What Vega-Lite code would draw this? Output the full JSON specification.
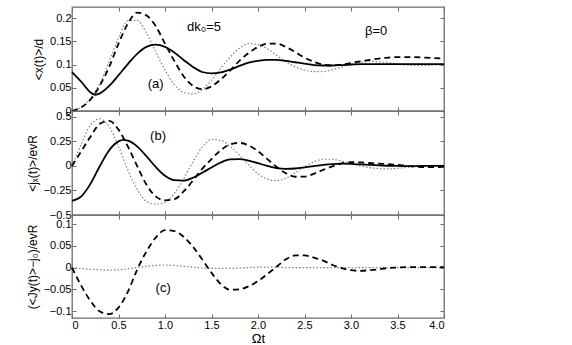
{
  "$schema": "https://vega.github.io/schema/vega-lite/v6.json",
  "padding": {"left": 25, "top": 5, "right": 5, "bottom": 3},
  "spacing": 0,
  "bounds": "flush",
  "config": {
    "font": "Liberation Sans",
    "view": {"stroke": "#6e6e6e", "strokeWidth": 1.3},
    "axis": {"domain": false, "grid": false, "tickColor": "#6e6e6e", "tickSize": -4, "tickWidth": 1, "labelFontSize": 11, "labelColor": "#000", "titleFontSize": 12, "titleFontWeight": "normal", "titleColor": "#000", "labelPadding": 5, "titlePadding": 4, "minExtent": 0}
  },
  "datasets": {
    "a": [
      {"x":0,"y":0.084,"s":"solid"},{"x":0.1,"y":0.063,"s":"solid"},{"x":0.2,"y":0.040,"s":"solid"},{"x":0.25,"y":0.035,"s":"solid"},{"x":0.3,"y":0.038,"s":"solid"},{"x":0.4,"y":0.054,"s":"solid"},{"x":0.5,"y":0.077,"s":"solid"},{"x":0.6,"y":0.101,"s":"solid"},{"x":0.7,"y":0.123,"s":"solid"},{"x":0.8,"y":0.138,"s":"solid"},{"x":0.9,"y":0.143,"s":"solid"},{"x":1.0,"y":0.138,"s":"solid"},{"x":1.1,"y":0.126,"s":"solid"},{"x":1.2,"y":0.110,"s":"solid"},{"x":1.3,"y":0.095,"s":"solid"},{"x":1.4,"y":0.084,"s":"solid"},{"x":1.5,"y":0.081,"s":"solid"},{"x":1.6,"y":0.083,"s":"solid"},{"x":1.7,"y":0.089,"s":"solid"},{"x":1.8,"y":0.097,"s":"solid"},{"x":1.9,"y":0.104,"s":"solid"},{"x":2.0,"y":0.108,"s":"solid"},{"x":2.1,"y":0.110,"s":"solid"},{"x":2.2,"y":0.110,"s":"solid"},{"x":2.3,"y":0.108,"s":"solid"},{"x":2.4,"y":0.105,"s":"solid"},{"x":2.5,"y":0.102,"s":"solid"},{"x":2.6,"y":0.099,"s":"solid"},{"x":2.7,"y":0.098,"s":"solid"},{"x":2.8,"y":0.098,"s":"solid"},{"x":2.9,"y":0.099,"s":"solid"},{"x":3.0,"y":0.100,"s":"solid"},{"x":3.1,"y":0.101,"s":"solid"},{"x":3.2,"y":0.101,"s":"solid"},{"x":3.3,"y":0.101,"s":"solid"},{"x":3.4,"y":0.101,"s":"solid"},{"x":3.5,"y":0.101,"s":"solid"},{"x":3.6,"y":0.101,"s":"solid"},{"x":3.7,"y":0.101,"s":"solid"},{"x":3.8,"y":0.101,"s":"solid"},{"x":3.9,"y":0.101,"s":"solid"},{"x":4.0,"y":0.101,"s":"solid"},
      {"x":0,"y":0,"s":"dashed"},{"x":0.1,"y":0.008,"s":"dashed"},{"x":0.2,"y":0.025,"s":"dashed"},{"x":0.3,"y":0.055,"s":"dashed"},{"x":0.4,"y":0.095,"s":"dashed"},{"x":0.5,"y":0.145,"s":"dashed"},{"x":0.6,"y":0.188,"s":"dashed"},{"x":0.7,"y":0.212,"s":"dashed"},{"x":0.8,"y":0.206,"s":"dashed"},{"x":0.9,"y":0.183,"s":"dashed"},{"x":1.0,"y":0.145,"s":"dashed"},{"x":1.1,"y":0.108,"s":"dashed"},{"x":1.2,"y":0.075,"s":"dashed"},{"x":1.3,"y":0.054,"s":"dashed"},{"x":1.4,"y":0.047,"s":"dashed"},{"x":1.5,"y":0.053,"s":"dashed"},{"x":1.6,"y":0.068,"s":"dashed"},{"x":1.7,"y":0.087,"s":"dashed"},{"x":1.8,"y":0.108,"s":"dashed"},{"x":1.9,"y":0.125,"s":"dashed"},{"x":2.0,"y":0.138,"s":"dashed"},{"x":2.1,"y":0.145,"s":"dashed"},{"x":2.2,"y":0.145,"s":"dashed"},{"x":2.3,"y":0.138,"s":"dashed"},{"x":2.4,"y":0.127,"s":"dashed"},{"x":2.5,"y":0.115,"s":"dashed"},{"x":2.6,"y":0.106,"s":"dashed"},{"x":2.7,"y":0.100,"s":"dashed"},{"x":2.8,"y":0.098,"s":"dashed"},{"x":2.9,"y":0.100,"s":"dashed"},{"x":3.0,"y":0.103,"s":"dashed"},{"x":3.1,"y":0.107,"s":"dashed"},{"x":3.2,"y":0.110,"s":"dashed"},{"x":3.3,"y":0.113,"s":"dashed"},{"x":3.4,"y":0.115,"s":"dashed"},{"x":3.5,"y":0.116,"s":"dashed"},{"x":3.6,"y":0.116,"s":"dashed"},{"x":3.7,"y":0.116,"s":"dashed"},{"x":3.8,"y":0.115,"s":"dashed"},{"x":3.9,"y":0.114,"s":"dashed"},{"x":4.0,"y":0.113,"s":"dashed"},
      {"x":0,"y":0,"s":"dotted"},{"x":0.1,"y":0.008,"s":"dotted"},{"x":0.2,"y":0.027,"s":"dotted"},{"x":0.3,"y":0.060,"s":"dotted"},{"x":0.4,"y":0.107,"s":"dotted"},{"x":0.5,"y":0.158,"s":"dotted"},{"x":0.6,"y":0.194,"s":"dotted"},{"x":0.7,"y":0.195,"s":"dotted"},{"x":0.8,"y":0.168,"s":"dotted"},{"x":0.9,"y":0.128,"s":"dotted"},{"x":1.0,"y":0.088,"s":"dotted"},{"x":1.1,"y":0.057,"s":"dotted"},{"x":1.2,"y":0.040,"s":"dotted"},{"x":1.3,"y":0.037,"s":"dotted"},{"x":1.4,"y":0.046,"s":"dotted"},{"x":1.5,"y":0.066,"s":"dotted"},{"x":1.6,"y":0.092,"s":"dotted"},{"x":1.7,"y":0.116,"s":"dotted"},{"x":1.8,"y":0.135,"s":"dotted"},{"x":1.9,"y":0.145,"s":"dotted"},{"x":2.0,"y":0.143,"s":"dotted"},{"x":2.1,"y":0.134,"s":"dotted"},{"x":2.2,"y":0.120,"s":"dotted"},{"x":2.3,"y":0.106,"s":"dotted"},{"x":2.4,"y":0.095,"s":"dotted"},{"x":2.5,"y":0.088,"s":"dotted"},{"x":2.6,"y":0.085,"s":"dotted"},{"x":2.7,"y":0.085,"s":"dotted"},{"x":2.8,"y":0.089,"s":"dotted"},{"x":2.9,"y":0.095,"s":"dotted"},{"x":3.0,"y":0.101,"s":"dotted"},{"x":3.1,"y":0.105,"s":"dotted"},{"x":3.2,"y":0.107,"s":"dotted"},{"x":3.3,"y":0.106,"s":"dotted"},{"x":3.4,"y":0.104,"s":"dotted"},{"x":3.5,"y":0.101,"s":"dotted"},{"x":3.6,"y":0.099,"s":"dotted"},{"x":3.7,"y":0.098,"s":"dotted"},{"x":3.8,"y":0.098,"s":"dotted"},{"x":3.9,"y":0.099,"s":"dotted"},{"x":4.0,"y":0.100,"s":"dotted"}
    ],
    "b": [
      {"x":0,"y":-0.355,"s":"solid"},{"x":0.1,"y":-0.31,"s":"solid"},{"x":0.2,"y":-0.18,"s":"solid"},{"x":0.3,"y":0.0,"s":"solid"},{"x":0.4,"y":0.16,"s":"solid"},{"x":0.5,"y":0.25,"s":"solid"},{"x":0.55,"y":0.266,"s":"solid"},{"x":0.6,"y":0.258,"s":"solid"},{"x":0.7,"y":0.20,"s":"solid"},{"x":0.8,"y":0.10,"s":"solid"},{"x":0.9,"y":-0.01,"s":"solid"},{"x":1.0,"y":-0.10,"s":"solid"},{"x":1.1,"y":-0.145,"s":"solid"},{"x":1.2,"y":-0.15,"s":"solid"},{"x":1.3,"y":-0.12,"s":"solid"},{"x":1.4,"y":-0.07,"s":"solid"},{"x":1.5,"y":-0.015,"s":"solid"},{"x":1.6,"y":0.035,"s":"solid"},{"x":1.7,"y":0.066,"s":"solid"},{"x":1.8,"y":0.07,"s":"solid"},{"x":1.9,"y":0.055,"s":"solid"},{"x":2.0,"y":0.028,"s":"solid"},{"x":2.1,"y":0.0,"s":"solid"},{"x":2.2,"y":-0.022,"s":"solid"},{"x":2.3,"y":-0.03,"s":"solid"},{"x":2.4,"y":-0.026,"s":"solid"},{"x":2.5,"y":-0.015,"s":"solid"},{"x":2.6,"y":-0.002,"s":"solid"},{"x":2.7,"y":0.01,"s":"solid"},{"x":2.8,"y":0.019,"s":"solid"},{"x":2.9,"y":0.023,"s":"solid"},{"x":3.0,"y":0.021,"s":"solid"},{"x":3.1,"y":0.016,"s":"solid"},{"x":3.2,"y":0.01,"s":"solid"},{"x":3.3,"y":0.005,"s":"solid"},{"x":3.4,"y":0.002,"s":"solid"},{"x":3.5,"y":0.0,"s":"solid"},{"x":3.6,"y":-0.001,"s":"solid"},{"x":3.7,"y":-0.001,"s":"solid"},{"x":3.8,"y":0,"s":"solid"},{"x":3.9,"y":0,"s":"solid"},{"x":4.0,"y":0,"s":"solid"},
      {"x":0,"y":0,"s":"dashed"},{"x":0.1,"y":0.15,"s":"dashed"},{"x":0.2,"y":0.30,"s":"dashed"},{"x":0.3,"y":0.43,"s":"dashed"},{"x":0.4,"y":0.46,"s":"dashed"},{"x":0.5,"y":0.37,"s":"dashed"},{"x":0.6,"y":0.20,"s":"dashed"},{"x":0.7,"y":0.0,"s":"dashed"},{"x":0.8,"y":-0.19,"s":"dashed"},{"x":0.9,"y":-0.31,"s":"dashed"},{"x":1.0,"y":-0.35,"s":"dashed"},{"x":1.1,"y":-0.34,"s":"dashed"},{"x":1.2,"y":-0.26,"s":"dashed"},{"x":1.3,"y":-0.15,"s":"dashed"},{"x":1.4,"y":-0.03,"s":"dashed"},{"x":1.5,"y":0.07,"s":"dashed"},{"x":1.6,"y":0.16,"s":"dashed"},{"x":1.7,"y":0.22,"s":"dashed"},{"x":1.8,"y":0.235,"s":"dashed"},{"x":1.9,"y":0.21,"s":"dashed"},{"x":2.0,"y":0.15,"s":"dashed"},{"x":2.1,"y":0.07,"s":"dashed"},{"x":2.2,"y":-0.01,"s":"dashed"},{"x":2.3,"y":-0.075,"s":"dashed"},{"x":2.4,"y":-0.11,"s":"dashed"},{"x":2.5,"y":-0.108,"s":"dashed"},{"x":2.6,"y":-0.08,"s":"dashed"},{"x":2.7,"y":-0.04,"s":"dashed"},{"x":2.8,"y":-0.005,"s":"dashed"},{"x":2.9,"y":0.025,"s":"dashed"},{"x":3.0,"y":0.038,"s":"dashed"},{"x":3.1,"y":0.036,"s":"dashed"},{"x":3.2,"y":0.03,"s":"dashed"},{"x":3.3,"y":0.024,"s":"dashed"},{"x":3.4,"y":0.018,"s":"dashed"},{"x":3.5,"y":0.01,"s":"dashed"},{"x":3.6,"y":0.0,"s":"dashed"},{"x":3.7,"y":-0.009,"s":"dashed"},{"x":3.8,"y":-0.013,"s":"dashed"},{"x":3.9,"y":-0.012,"s":"dashed"},{"x":4.0,"y":-0.009,"s":"dashed"},
      {"x":0,"y":0,"s":"dotted"},{"x":0.1,"y":0.22,"s":"dotted"},{"x":0.2,"y":0.42,"s":"dotted"},{"x":0.3,"y":0.48,"s":"dotted"},{"x":0.4,"y":0.40,"s":"dotted"},{"x":0.5,"y":0.20,"s":"dotted"},{"x":0.6,"y":-0.04,"s":"dotted"},{"x":0.7,"y":-0.24,"s":"dotted"},{"x":0.8,"y":-0.36,"s":"dotted"},{"x":0.9,"y":-0.39,"s":"dotted"},{"x":1.0,"y":-0.37,"s":"dotted"},{"x":1.1,"y":-0.28,"s":"dotted"},{"x":1.2,"y":-0.13,"s":"dotted"},{"x":1.3,"y":0.04,"s":"dotted"},{"x":1.4,"y":0.19,"s":"dotted"},{"x":1.5,"y":0.27,"s":"dotted"},{"x":1.6,"y":0.26,"s":"dotted"},{"x":1.7,"y":0.20,"s":"dotted"},{"x":1.8,"y":0.11,"s":"dotted"},{"x":1.9,"y":0.01,"s":"dotted"},{"x":2.0,"y":-0.08,"s":"dotted"},{"x":2.1,"y":-0.135,"s":"dotted"},{"x":2.2,"y":-0.15,"s":"dotted"},{"x":2.3,"y":-0.125,"s":"dotted"},{"x":2.4,"y":-0.07,"s":"dotted"},{"x":2.5,"y":-0.01,"s":"dotted"},{"x":2.6,"y":0.04,"s":"dotted"},{"x":2.7,"y":0.068,"s":"dotted"},{"x":2.8,"y":0.068,"s":"dotted"},{"x":2.9,"y":0.05,"s":"dotted"},{"x":3.0,"y":0.025,"s":"dotted"},{"x":3.1,"y":0.0,"s":"dotted"},{"x":3.2,"y":-0.017,"s":"dotted"},{"x":3.3,"y":-0.027,"s":"dotted"},{"x":3.4,"y":-0.03,"s":"dotted"},{"x":3.5,"y":-0.025,"s":"dotted"},{"x":3.6,"y":-0.015,"s":"dotted"},{"x":3.7,"y":-0.005,"s":"dotted"},{"x":3.8,"y":0.002,"s":"dotted"},{"x":3.9,"y":0.005,"s":"dotted"},{"x":4.0,"y":0.005,"s":"dotted"}
    ],
    "c": [
      {"x":0,"y":0,"s":"dashed"},{"x":0.1,"y":-0.042,"s":"dashed"},{"x":0.2,"y":-0.077,"s":"dashed"},{"x":0.3,"y":-0.101,"s":"dashed"},{"x":0.4,"y":-0.107,"s":"dashed"},{"x":0.5,"y":-0.092,"s":"dashed"},{"x":0.6,"y":-0.056,"s":"dashed"},{"x":0.7,"y":-0.005,"s":"dashed"},{"x":0.8,"y":0.037,"s":"dashed"},{"x":0.9,"y":0.069,"s":"dashed"},{"x":1.0,"y":0.086,"s":"dashed"},{"x":1.1,"y":0.084,"s":"dashed"},{"x":1.2,"y":0.071,"s":"dashed"},{"x":1.3,"y":0.048,"s":"dashed"},{"x":1.4,"y":0.019,"s":"dashed"},{"x":1.5,"y":-0.012,"s":"dashed"},{"x":1.6,"y":-0.038,"s":"dashed"},{"x":1.7,"y":-0.051,"s":"dashed"},{"x":1.8,"y":-0.050,"s":"dashed"},{"x":1.9,"y":-0.043,"s":"dashed"},{"x":2.0,"y":-0.031,"s":"dashed"},{"x":2.1,"y":-0.015,"s":"dashed"},{"x":2.2,"y":0.002,"s":"dashed"},{"x":2.3,"y":0.019,"s":"dashed"},{"x":2.4,"y":0.028,"s":"dashed"},{"x":2.5,"y":0.028,"s":"dashed"},{"x":2.6,"y":0.023,"s":"dashed"},{"x":2.7,"y":0.016,"s":"dashed"},{"x":2.8,"y":0.006,"s":"dashed"},{"x":2.9,"y":-0.001,"s":"dashed"},{"x":3.0,"y":-0.006,"s":"dashed"},{"x":3.1,"y":-0.0076,"s":"dashed"},{"x":3.2,"y":-0.006,"s":"dashed"},{"x":3.3,"y":-0.004,"s":"dashed"},{"x":3.4,"y":-0.001,"s":"dashed"},{"x":3.5,"y":0,"s":"dashed"},{"x":3.6,"y":0.001,"s":"dashed"},{"x":3.7,"y":0.001,"s":"dashed"},{"x":3.8,"y":0.001,"s":"dashed"},{"x":3.9,"y":0.001,"s":"dashed"},{"x":4.0,"y":0.001,"s":"dashed"},
      {"x":0,"y":0,"s":"dotted"},{"x":0.1,"y":-0.002,"s":"dotted"},{"x":0.2,"y":-0.004,"s":"dotted"},{"x":0.3,"y":-0.005,"s":"dotted"},{"x":0.4,"y":-0.006,"s":"dotted"},{"x":0.5,"y":-0.005,"s":"dotted"},{"x":0.6,"y":-0.003,"s":"dotted"},{"x":0.7,"y":0,"s":"dotted"},{"x":0.8,"y":0.003,"s":"dotted"},{"x":0.9,"y":0.005,"s":"dotted"},{"x":1.0,"y":0.006,"s":"dotted"},{"x":1.1,"y":0.005,"s":"dotted"},{"x":1.2,"y":0.003,"s":"dotted"},{"x":1.3,"y":0.001,"s":"dotted"},{"x":1.4,"y":-0.001,"s":"dotted"},{"x":1.5,"y":-0.002,"s":"dotted"},{"x":1.6,"y":-0.002,"s":"dotted"},{"x":1.7,"y":-0.002,"s":"dotted"},{"x":1.8,"y":-0.001,"s":"dotted"},{"x":1.9,"y":0,"s":"dotted"},{"x":2.0,"y":0.001,"s":"dotted"},{"x":2.1,"y":0.001,"s":"dotted"},{"x":2.2,"y":0.001,"s":"dotted"},{"x":2.3,"y":0,"s":"dotted"},{"x":2.6,"y":0,"s":"dotted"},{"x":3.0,"y":0,"s":"dotted"},{"x":3.5,"y":0,"s":"dotted"},{"x":4.0,"y":0,"s":"dotted"}
    ]
  },
  "vconcat": [
    {
      "width": 372, "height": 104,
      "layer": [
        {"data": {"name": "a"}, "transform": [{"filter": "datum.s == 'dotted'"}],
         "mark": {"type": "line", "color": "#808080", "strokeWidth": 1.2, "strokeDash": [1.5, 2], "interpolate": "monotone"},
         "encoding": {
           "x": {"field": "x", "type": "quantitative", "scale": {"domain": [0, 4], "nice": false}, "axis": {"orient": "bottom", "values": [0,0.5,1,1.5,2,2.5,3,3.5,4], "labels": false, "title": null}},
           "y": {"field": "y", "type": "quantitative", "scale": {"domain": [0, 0.224], "nice": false, "zero": false}, "axis": {"orient": "left", "values": [0,0.05,0.1,0.15,0.2], "labelExpr": "datum.value == 0 ? '0' : format(datum.value, '.2~f')", "title": "<x(t)>/d"}}
         }},
        {"data": {"name": "a"}, "transform": [{"filter": "datum.s == 'dashed'"}],
         "mark": {"type": "line", "color": "#000", "strokeWidth": 1.8, "strokeDash": [6, 4], "interpolate": "monotone"},
         "encoding": {
           "x": {"field": "x", "type": "quantitative", "axis": {"orient": "top", "values": [0,0.5,1,1.5,2,2.5,3,3.5,4], "labels": false, "title": null}},
           "y": {"field": "y", "type": "quantitative", "axis": {"orient": "right", "values": [0,0.05,0.1,0.15,0.2], "labels": false, "title": null}}
         }},
        {"data": {"name": "a"}, "transform": [{"filter": "datum.s == 'solid'"}],
         "mark": {"type": "line", "color": "#000", "strokeWidth": 1.8, "interpolate": "monotone"},
         "encoding": {
           "x": {"field": "x", "type": "quantitative", "axis": null},
           "y": {"field": "y", "type": "quantitative", "axis": null}
         }},
        {"data": {"values": [{"x": 1.42, "y": 0.181, "t": "dk₀=5"}, {"x": 3.27, "y": 0.172, "t": "β=0"}, {"x": 0.9, "y": 0.058, "t": "(a)"}]},
         "mark": {"type": "text", "fontSize": 13, "align": "center", "baseline": "middle", "color": "#000"},
         "encoding": {
           "x": {"field": "x", "type": "quantitative", "axis": null},
           "y": {"field": "y", "type": "quantitative", "axis": null},
           "text": {"field": "t"}
         }}
      ],
      "resolve": {"axis": {"x": "independent", "y": "independent"}}
    },
    {
      "width": 372, "height": 104,
      "layer": [
        {"data": {"name": "b"}, "transform": [{"filter": "datum.s == 'dotted'"}],
         "mark": {"type": "line", "color": "#808080", "strokeWidth": 1.2, "strokeDash": [1.5, 2], "interpolate": "monotone"},
         "encoding": {
           "x": {"field": "x", "type": "quantitative", "scale": {"domain": [0, 4], "nice": false}, "axis": {"orient": "bottom", "values": [0,0.5,1,1.5,2,2.5,3,3.5,4], "labels": false, "title": null}},
           "y": {"field": "y", "type": "quantitative", "scale": {"domain": [-0.5, 0.56], "nice": false, "zero": false}, "axis": {"orient": "left", "values": [-0.5,-0.25,0,0.25,0.5], "labelExpr": "datum.value == 0 ? '0' : format(datum.value, '.2~f')", "title": "<jₓ(t)>/evR"}}
         }},
        {"data": {"name": "b"}, "transform": [{"filter": "datum.s == 'dashed'"}],
         "mark": {"type": "line", "color": "#000", "strokeWidth": 1.8, "strokeDash": [6, 4], "interpolate": "monotone"},
         "encoding": {
           "x": {"field": "x", "type": "quantitative", "axis": {"orient": "top", "values": [0,0.5,1,1.5,2,2.5,3,3.5,4], "labels": false, "title": null}},
           "y": {"field": "y", "type": "quantitative", "axis": {"orient": "right", "values": [-0.5,-0.25,0,0.25,0.5], "labels": false, "title": null}}
         }},
        {"data": {"name": "b"}, "transform": [{"filter": "datum.s == 'solid'"}],
         "mark": {"type": "line", "color": "#000", "strokeWidth": 1.8, "interpolate": "monotone"},
         "encoding": {
           "x": {"field": "x", "type": "quantitative", "axis": null},
           "y": {"field": "y", "type": "quantitative", "axis": null}
         }},
        {"data": {"values": [{"x": 0.925, "y": 0.306, "t": "(b)"}]},
         "mark": {"type": "text", "fontSize": 13, "align": "center", "baseline": "middle", "color": "#000"},
         "encoding": {
           "x": {"field": "x", "type": "quantitative", "axis": null},
           "y": {"field": "y", "type": "quantitative", "axis": null},
           "text": {"field": "t"}
         }}
      ],
      "resolve": {"axis": {"x": "independent", "y": "independent"}}
    },
    {
      "width": 372, "height": 103,
      "layer": [
        {"data": {"name": "c"}, "transform": [{"filter": "datum.s == 'dotted'"}],
         "mark": {"type": "line", "color": "#808080", "strokeWidth": 1.2, "strokeDash": [1.5, 2], "interpolate": "monotone"},
         "encoding": {
           "x": {"field": "x", "type": "quantitative", "scale": {"domain": [0, 4], "nice": false}, "axis": {"orient": "bottom", "values": [0,0.5,1,1.5,2,2.5,3,3.5,4], "labelExpr": "datum.value == 0 ? '0' : format(datum.value, '.1f')", "title": "Ωt", "titleFontSize": 13, "titlePadding": 2}},
           "y": {"field": "y", "type": "quantitative", "scale": {"domain": [-0.116, 0.121], "nice": false, "zero": false}, "axis": {"orient": "left", "values": [-0.1,-0.05,0,0.05,0.1], "labelExpr": "datum.value == 0 ? '0' : format(datum.value, '.2~f')", "title": "(<Jy(t)>−j₀)/evR"}}
         }},
        {"data": {"name": "c"}, "transform": [{"filter": "datum.s == 'dashed'"}],
         "mark": {"type": "line", "color": "#000", "strokeWidth": 1.8, "strokeDash": [6, 4], "interpolate": "monotone"},
         "encoding": {
           "x": {"field": "x", "type": "quantitative", "axis": {"orient": "top", "values": [0,0.5,1,1.5,2,2.5,3,3.5,4], "labels": false, "title": null}},
           "y": {"field": "y", "type": "quantitative", "axis": {"orient": "right", "values": [-0.1,-0.05,0,0.05,0.1], "labels": false, "title": null}}
         }},
        {"data": {"values": [{"x": 0.98, "y": -0.047, "t": "(c)"}]},
         "mark": {"type": "text", "fontSize": 13, "align": "center", "baseline": "middle", "color": "#000"},
         "encoding": {
           "x": {"field": "x", "type": "quantitative", "axis": null},
           "y": {"field": "y", "type": "quantitative", "axis": null},
           "text": {"field": "t"}
         }}
      ],
      "resolve": {"axis": {"x": "independent", "y": "independent"}}
    }
  ]
}
